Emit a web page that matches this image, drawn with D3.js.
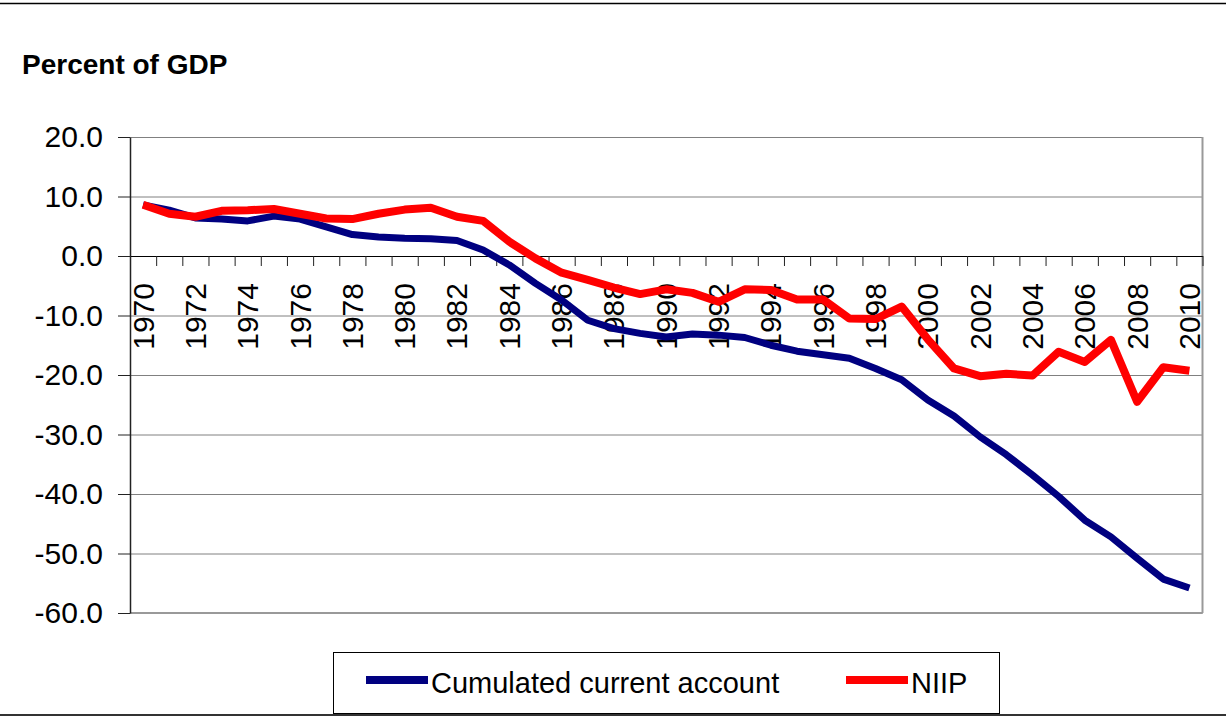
<!DOCTYPE html>
<html>
<head>
<meta charset="utf-8">
<script src="https://cdn.jsdelivr.net/npm/d3@7"></script>
<style>
  body { margin: 0; background: #fff; }
  text { font-family: "Liberation Sans", Arial, sans-serif; fill: #000; }
</style>
</head>
<body>
<div id="chart"></div>
<script>
// Years on the category axis
const years = d3.range(1970, 2011);

// Cumulated current account, percent of GDP
const cumulatedCA = [8.6, 7.7, 6.4, 6.2, 5.9, 6.7, 6.2, 4.9, 3.6, 3.2, 3.0,
  2.9, 2.6, 1.0, -1.5, -4.6, -7.4, -10.8, -12.2, -13.0, -13.6,
  -13.1, -13.3, -13.7, -15.0, -16.0, -16.6, -17.2, -18.9, -20.8, -24.2,
  -26.9, -30.4, -33.4, -36.8, -40.4, -44.4, -47.2, -50.8, -54.3, -55.8];

// Net international investment position, percent of GDP
const niip = [8.6, 7.1, 6.6, 7.6, 7.7, 7.9, 7.1, 6.3, 6.2, 7.1, 7.8,
  8.1, 6.6, 5.9, 2.4, -0.4, -2.8, -4.0, -5.3, -6.4, -5.6,
  -6.2, -7.7, -5.6, -5.7, -7.3, -7.3, -10.5, -10.6, -8.5, -14.0,
  -18.9, -20.2, -19.8, -20.1, -16.1, -17.8, -14.1, -24.5, -18.7, -19.3];

const yTicks = [20, 10, 0, -10, -20, -30, -40, -50, -60];
const labelYears = years.filter(d => d % 2 === 0);

const series = [
  { name: "Cumulated current account", values: cumulatedCA, color: "#000080", width: 7 },
  { name: "NIIP", values: niip, color: "#ff0000", width: 8 }
];

const W = 1226, H = 717;
const plotLeft = 130, plotRight = 1202.5, plotTop = 137, plotBottom = 613;

const svg = d3.select("#chart")
  .append("svg")
  .attr("width", W)
  .attr("height", H);

// outer frame of the chart object
svg.append("line").attr("x1", 0).attr("x2", W).attr("y1", 3.5).attr("y2", 3.5)
  .attr("stroke", "#000").attr("stroke-width", 1.5);
svg.append("line").attr("x1", 0).attr("x2", W).attr("y1", 715).attr("y2", 715)
  .attr("stroke", "#333").attr("stroke-width", 2);

// title
svg.append("text")
  .attr("x", 22)
  .attr("y", 74)
  .style("font-size", "28px")
  .style("font-weight", "bold")
  .text("Percent of GDP");

const x = d3.scaleBand().domain(years).range([plotLeft, plotRight]).padding(0);
const xEdge = d3.scaleLinear().domain([0, years.length]).range([plotLeft, plotRight]);
const y = d3.scaleLinear().domain([-60, 20]).range([plotBottom, plotTop]);

// gridlines
svg.append("g")
  .attr("transform", `translate(${plotLeft},0)`)
  .call(d3.axisLeft(y).tickValues(yTicks).tickSize(-(plotRight - plotLeft)).tickFormat(""))
  .call(g => g.select(".domain").remove())
  .call(g => g.selectAll("line").attr("stroke", "#808080"));

// plot border on right and bottom
svg.append("line").attr("x1", plotRight).attr("x2", plotRight).attr("y1", plotTop).attr("y2", plotBottom)
  .attr("stroke", "#999").attr("stroke-width", 2);
svg.append("line").attr("x1", plotLeft).attr("x2", plotRight).attr("y1", plotBottom).attr("y2", plotBottom)
  .attr("stroke", "#999").attr("stroke-width", 2);

// y axis
svg.append("g")
  .attr("transform", `translate(${plotLeft},0)`)
  .call(d3.axisLeft(y).tickValues(yTicks).tickSize(12).tickSizeOuter(0).tickPadding(15)
    .tickFormat(d => d.toFixed(1)))
  .call(g => g.select(".domain").attr("stroke", "#222").attr("stroke-width", 1.5))
  .call(g => g.selectAll("line").attr("stroke", "#222"))
  .call(g => g.selectAll("text")
    .style("font-size", "30px")
    .style("font-family", "'Liberation Sans', Arial, sans-serif")
    .attr("fill", "#000"));

// x axis at zero, ticks between categories
svg.append("g")
  .attr("transform", `translate(0,${y(0)})`)
  .call(d3.axisBottom(xEdge).tickValues(d3.range(years.length + 1)).tickSize(10)
    .tickSizeOuter(0).tickFormat(""))
  .call(g => g.select(".domain").attr("stroke", "#000"))
  .call(g => g.selectAll("line").attr("stroke", "#222"));

// rotated year labels
svg.append("g")
  .selectAll("text")
  .data(labelYears)
  .join("text")
  .attr("transform", d => `translate(${x(d) + x.bandwidth() / 2},${y(0) + 27}) rotate(-90)`)
  .attr("text-anchor", "end")
  .attr("dominant-baseline", "central")
  .style("font-size", "30px")
  .text(d => d);

// lines
const line = d3.line()
  .x((d, i) => x(years[i]) + x.bandwidth() / 2)
  .y(d => y(d));

svg.append("g")
  .selectAll("path")
  .data(series)
  .join("path")
  .attr("d", d => line(d.values))
  .attr("fill", "none")
  .attr("stroke", d => d.color)
  .attr("stroke-width", d => d.width)
  .attr("stroke-linejoin", "round");

// legend
const legend = svg.append("g");
legend.append("rect")
  .attr("x", 333.5).attr("y", 652.5)
  .attr("width", 666).attr("height", 61)
  .attr("fill", "#fff").attr("stroke", "#000").attr("stroke-width", 1);

const legendItems = [
  { s: series[0], x: 366 },
  { s: series[1], x: 846 }
];
legendItems.forEach(item => {
  legend.append("line")
    .attr("x1", item.x).attr("x2", item.x + 62)
    .attr("y1", 680).attr("y2", 680)
    .attr("stroke", item.s.color).attr("stroke-width", 8);
  legend.append("text")
    .attr("x", item.x + 65).attr("y", 693)
    .style("font-size", "29px")
    .text(item.s.name);
});
</script>
</body>
</html>
